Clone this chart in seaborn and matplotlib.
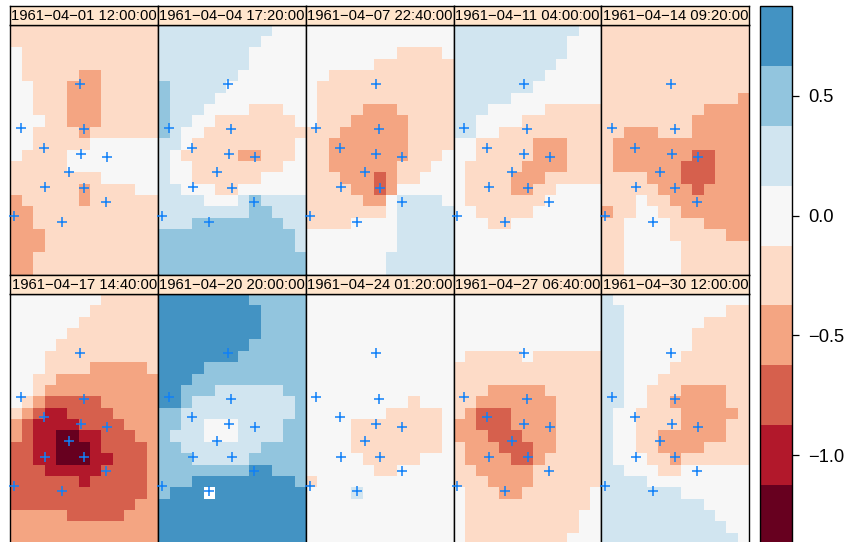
"""
Small multiples of gridded anomaly fields with station markers.
"""
import matplotlib
matplotlib.use("Agg")
import matplotlib.pyplot as plt
from matplotlib.colors import ListedColormap
import numpy as np
import seaborn as sns

titles = [
    "1961\u221204\u221201 12:00:00", "1961\u221204\u221204 17:20:00", "1961\u221204\u221207 22:40:00",
    "1961\u221204\u221211 04:00:00", "1961\u221204\u221214 09:20:00", "1961\u221204\u221217 14:40:00",
    "1961\u221204\u221220 20:00:00", "1961\u221204\u221224 01:20:00", "1961\u221204\u221227 06:40:00",
    "1961\u221204\u221230 12:00:00",
]

# colour class of each cell: 0 = -1.25 ... 5 = 0.0 ... 8 = 0.75, 9 = missing
field_1 = ["4444444444444", "4444444444444", "5444444444444", "5444444444444", "5444443344444",
           "5544433344444", "5544433344444", "5544433344444", "5554433344444", "5544443444444",
           "5544444555555", "5444455555555", "4444455555555", "4444444455555", "4444443444455",
           "3444443444444", "3344444444444", "3344444444444", "3334444444444", "3334444444444",
           "3344444444444", "3344444444444"]
field_2 = ["6666666666555", "6666666665555", "6666666655555", "6666666655555", "6666666555555",
           "7666665555555", "7666655555555", "7666555544455", "7665544444445", "7655444444444",
           "6654444444445", "6544444334445", "6554444444455", "6554444445555", "6655544555555",
           "6666555676666", "6666666677666", "6667777777766", "7777777777776", "7777777777776",
           "7777777777777", "7777777777777"]
field_3 = ["5555555555555", "5555555555555", "5555555544445", "5555554444444", "5544444444444",
           "5444444444444", "5444444444444", "5444433344444", "5444333334444", "4443333334444",
           "4433333334444", "4433333334445", "4433333344455", "4443332344555", "4444332355555",
           "4444433566665", "4444444566666", "4444555566666", "5555555566666", "5555555566666",
           "5555555666666", "5555555666666"]
field_4 = ["6666666666655", "6666666666555", "6666666666555", "6666666665555", "6666666655555",
           "6666666555555", "6666655555555", "6665555544444", "6655554444444", "6655444444444",
           "5544444333444", "5544444333444", "5444443333444", "5444433344444", "5444433445555",
           "5444444455555", "5544444555555", "5554455555555", "5555555555555", "5555555555555",
           "5555555555555", "5555555555555"]
field_5 = ["4444444444444", "4444444444444", "4444444444444", "4444444444444", "4444444444444",
           "4444444444444", "4444444444443", "4444444443333", "4444444433333", "4433344433333",
           "4333333333333", "4333333322333", "4333333222333", "4444333222333", "4444433323333",
           "4445443333333", "3445544333333", "4455554443333", "4455554444433", "4455555444444",
           "4455555444444", "4455555444444"]
field_6 = ["5555555544444", "5555555444444", "5555554444444", "5555544444444", "5555444444444",
           "5554444444444", "5554444333334", "5544333333333", "5543333333333", "5432222233333",
           "4321122223333", "3211112222333", "3211001122233", "2211000122223", "2211000112223",
           "2221111122223", "2222221222223", "2222222222223", "2222222222233", "3333322222333",
           "3333333333333", "3333333333333"]
field_7 = ["8888888877777", "8888888887777", "8888888887777", "8888888887777", "8888888877777",
           "8888888777777", "8888777777777", "8887777777777", "8877766666677", "8876666666667",
           "7766666666667", "7766555666677", "7666555666677", "7766666667777", "7776666677777",
           "7777777788777", "7778888888887", "7888988888888", "8888888888888", "8888888888888",
           "8888888888888", "8888888888888"]
field_8 = ["5555555555555", "5555555555555", "5555555555555", "5555555555555", "5555555555555",
           "5555555555555", "5555555555555", "5555555555555", "5555555555555", "5555555554555",
           "5555555444445", "5555444444445", "5555444444445", "5555444444445", "5555544444555",
           "5555554455555", "4555555555555", "5555655555555", "5555555555555", "5555555555555",
           "5555555555555", "5555555555555"]
field_9 = ["5555555555555", "5555555555555", "5555555555555", "5555555555555", "5555555555555",
           "5444445444444", "4444444444444", "4444444444444", "4443333344444", "4433333334444",
           "4322233334444", "3322233334444", "3332223334444", "4333222334444", "4333322344444",
           "4433333444444", "4443333444444", "5444334444445", "5444444444445", "5444444444455",
           "5444444444455", "5444444444555"]
field_10 = ["6555555555555", "6655555555544", "6655555554444", "6655555544444", "6655555544444",
            "6655555444444", "6655554444444", "6655544444444", "6655444333344", "6655443333344",
            "6554444333334", "6554444333344", "6554433333344", "6554433334444", "6555443444444",
            "6655544555555", "6666555555555", "6666666555555", "6666666665555", "6666666666555",
            "6666666666655", "6666666666665"]
fields = [field_1, field_2, field_3, field_4, field_5, field_6, field_7, field_8, field_9, field_10]

station_x = [0.92, 2.95, 6.14, 6.44, 6.20, 8.48, 5.17, 3.07, 6.50, 8.42, 0.32, 4.49]
station_y = [9.06, 10.83, 5.22, 9.20, 11.42, 11.68, 12.95, 14.30, 14.37, 15.58, 16.87, 17.35]

level_colors = ["#67001F", "#B2182B", "#D6604D", "#F4A582", "#FDDBC7",
                "#F7F7F7", "#D1E5F0", "#92C5DE", "#4393C3"]
colorbar_ticks = [-1.0, -0.5, 0.0, 0.5]

W, H = 845, 542
FONT = "Liberation Sans"


def to_values(rows):
    codes = np.array([[int(c) for c in row] for row in rows], dtype=float)
    codes[codes == 9] = np.nan
    return (codes - 5) * 0.25


def px_axes(fig, left, top, right, bottom):
    return fig.add_axes([left / W, 1 - bottom / H, (right - left) / W, (bottom - top) / H])


sns.set_theme(style="white")
plt.rcParams["font.family"] = FONT

fig = plt.figure(figsize=(W / 100, H / 100), dpi=100)
cmap = ListedColormap(level_colors)
cax = px_axes(fig, 760, 6, 792.5, 545)

panel_edges = [10.5, 158.2, 306, 453.7, 601.5, 749.2]
row_tops = [24.5, 294]
panel_h = 250.2
strip_h = 18.7

for i, (title, rows) in enumerate(zip(titles, fields)):
    col, row = i % 5, i // 5
    left, right = panel_edges[col], panel_edges[col + 1]
    top = row_tops[row]
    ax = px_axes(fig, left, top, right, top + panel_h)
    sns.heatmap(to_values(rows), ax=ax, cmap=cmap, vmin=-1.375, vmax=0.875,
                xticklabels=False, yticklabels=False,
                cbar=i == 0, cbar_ax=cax if i == 0 else None)
    ax.plot(station_x, station_y, linestyle="none", marker="+", color="#1080F8",
            markersize=7, markeredgewidth=1.1, clip_on=False, zorder=5)
    for spine in ax.spines.values():
        spine.set_visible(True)
        spine.set_color("black")
        spine.set_linewidth(1.0)

    strip = px_axes(fig, left, top - strip_h, right, top)
    strip.set_facecolor("#FFE5CC")
    strip.set_xticks([])
    strip.set_yticks([])
    for spine in strip.spines.values():
        spine.set_visible(True)
        spine.set_color("black")
        spine.set_linewidth(1.0)
    strip.text(0.5, 0.46, title, transform=strip.transAxes, ha="center", va="center",
               fontsize=10.6, color="black", family=FONT)

cbar = fig.axes[1].collections[0].colorbar
cbar.set_ticks(colorbar_ticks)
cbar.set_ticklabels(["\u22121.0", "\u22120.5", "0.0", "0.5"])
cbar.ax.tick_params(length=5, width=0.9, color="black", labelsize=13.2, pad=6, right=True,
                    labelcolor="black")
cbar.outline.set_visible(True)
cbar.outline.set_edgecolor("black")
cbar.outline.set_linewidth(1.0)

fig.savefig("out.png", dpi=100, facecolor="white")
